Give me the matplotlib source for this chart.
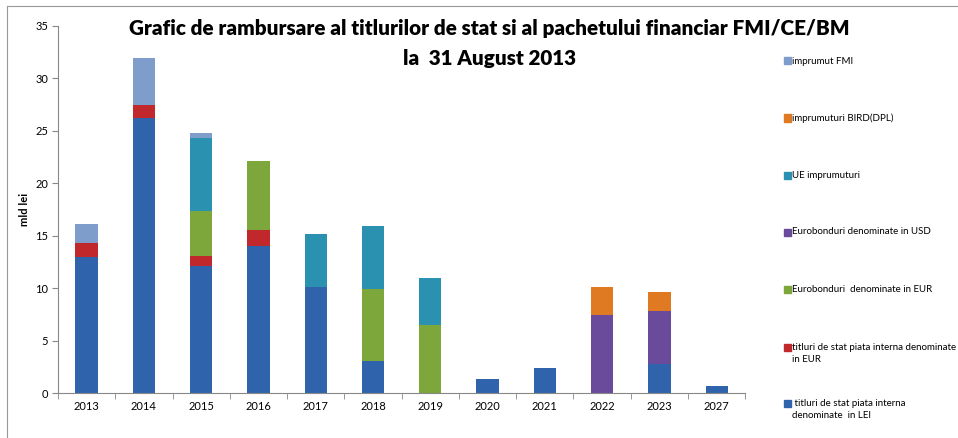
import matplotlib.pyplot as plt
from matplotlib.patches import Rectangle
from matplotlib.lines import Line2D
import numpy as np

plt.rcParams['font.family'] = ['Lato', 'DejaVu Sans']

years = ['2013', '2014', '2015', '2016', '2017', '2018', '2019', '2020', '2021', '2022', '2023', '2027']

# mld lei, stacked bottom to top
lei         = [13.0, 26.2, 12.1, 14.0, 10.1, 3.1, 0.0, 1.3, 2.4, 0.0, 2.8, 0.7]
int_eur     = [1.3, 1.3, 1.0, 1.5, 0.0, 0.0, 0.0, 0.0, 0.0, 0.0, 0.0, 0.0]
euro_eur    = [0.0, 0.0, 4.3, 6.6, 0.0, 6.8, 6.5, 0.0, 0.0, 0.0, 0.0, 0.0]
euro_usd    = [0.0, 0.0, 0.0, 0.0, 0.0, 0.0, 0.0, 0.0, 0.0, 7.4, 5.0, 0.0]
ue          = [0.0, 0.0, 6.9, 0.0, 5.1, 6.0, 4.5, 0.0, 0.0, 0.0, 0.0, 0.0]
bird        = [0.0, 0.0, 0.0, 0.0, 0.0, 0.0, 0.0, 0.0, 0.0, 2.7, 1.85, 0.0]
fmi         = [1.8, 4.4, 0.5, 0.0, 0.0, 0.0, 0.0, 0.0, 0.0, 0.0, 0.0, 0.0]

series = [
    (lei, '#2F63AC', ' titluri de stat piata interna\ndenominate  in LEI'),
    (int_eur, '#C0282B', 'titluri de stat piata interna denominate\nin EUR'),
    (euro_eur, '#7DA73A', 'Eurobonduri  denominate in EUR'),
    (euro_usd, '#6A4A9B', 'Eurobonduri denominate in USD'),
    (ue, '#2A92B0', 'UE imprumuturi'),
    (bird, '#E07A22', 'imprumuturi BIRD(DPL)'),
    (fmi, '#7F9DCB', 'imprumut FMI'),
]

fig = plt.figure(figsize=(9.58, 4.38), dpi=100)
ax = fig.add_axes([0.0605, 0.1027, 0.7175, 0.838])

x = np.arange(len(years))
bottom = np.zeros(len(years))
for vals, col, lab in series:
    v = np.array(vals)
    ax.bar(x, v, 0.39, bottom=bottom, color=col, edgecolor='none')
    bottom += v

ax.set_xlim(-0.5, len(years) - 0.5)
ax.set_ylim(0, 35)
ax.set_yticks(range(0, 36, 5))
ax.set_xticks(x)
ax.set_xticklabels(years)
ax.set_xticks(np.arange(-0.5, len(years), 1), minor=True)
ax.tick_params(axis='x', which='major', length=0, labelsize=8, pad=6)
ax.tick_params(axis='x', which='minor', length=4, color='#888888')
ax.tick_params(axis='y', length=4, color='#888888', labelsize=8, pad=3)
for s in ['top', 'right']:
    ax.spines[s].set_visible(False)
for s in ['left', 'bottom']:
    ax.spines[s].set_color('#888888')
    ax.spines[s].set_linewidth(0.8)
ax.set_ylabel('mld lei', fontsize=8, fontweight='bold', labelpad=4)

fig.text(0.511, 0.936, 'Grafic de rambursare al titlurilor de stat si al pachetului financiar FMI/CE/BM',
         ha='center', va='center', fontsize=14.9, fontweight='heavy')
fig.text(0.511, 0.867, 'la  31 August 2013', ha='center', va='center',
         fontsize=14.9, fontweight='heavy')

# legend on the right, top entry first
leg_y = [61, 118, 175, 232, 289, 347, 403]
for (vals, col, lab), yp in zip(series[::-1], leg_y):
    yf = 1 - yp / 438
    fig.patches.append(Rectangle((784 / 958, yf - 3.5 / 438), 7 / 958, 7 / 438,
                                 transform=fig.transFigure, color=col))
    fig.text(792 / 958, yf, lab.split('\n')[0], ha='left', va='center', fontsize=7)
    if '\n' in lab:
        fig.text(792 / 958, yf - 12 / 438, lab.split('\n')[1], ha='left', va='center', fontsize=7)

# chart border
fig.add_artist(Line2D([7 / 958, 7 / 958], [0, 1 - 6 / 438], transform=fig.transFigure,
                      color='#999999', linewidth=0.8))
fig.add_artist(Line2D([7 / 958, 1], [1 - 6 / 438, 1 - 6 / 438], transform=fig.transFigure,
                      color='#999999', linewidth=0.8))

fig.savefig('out.png', dpi=100)
